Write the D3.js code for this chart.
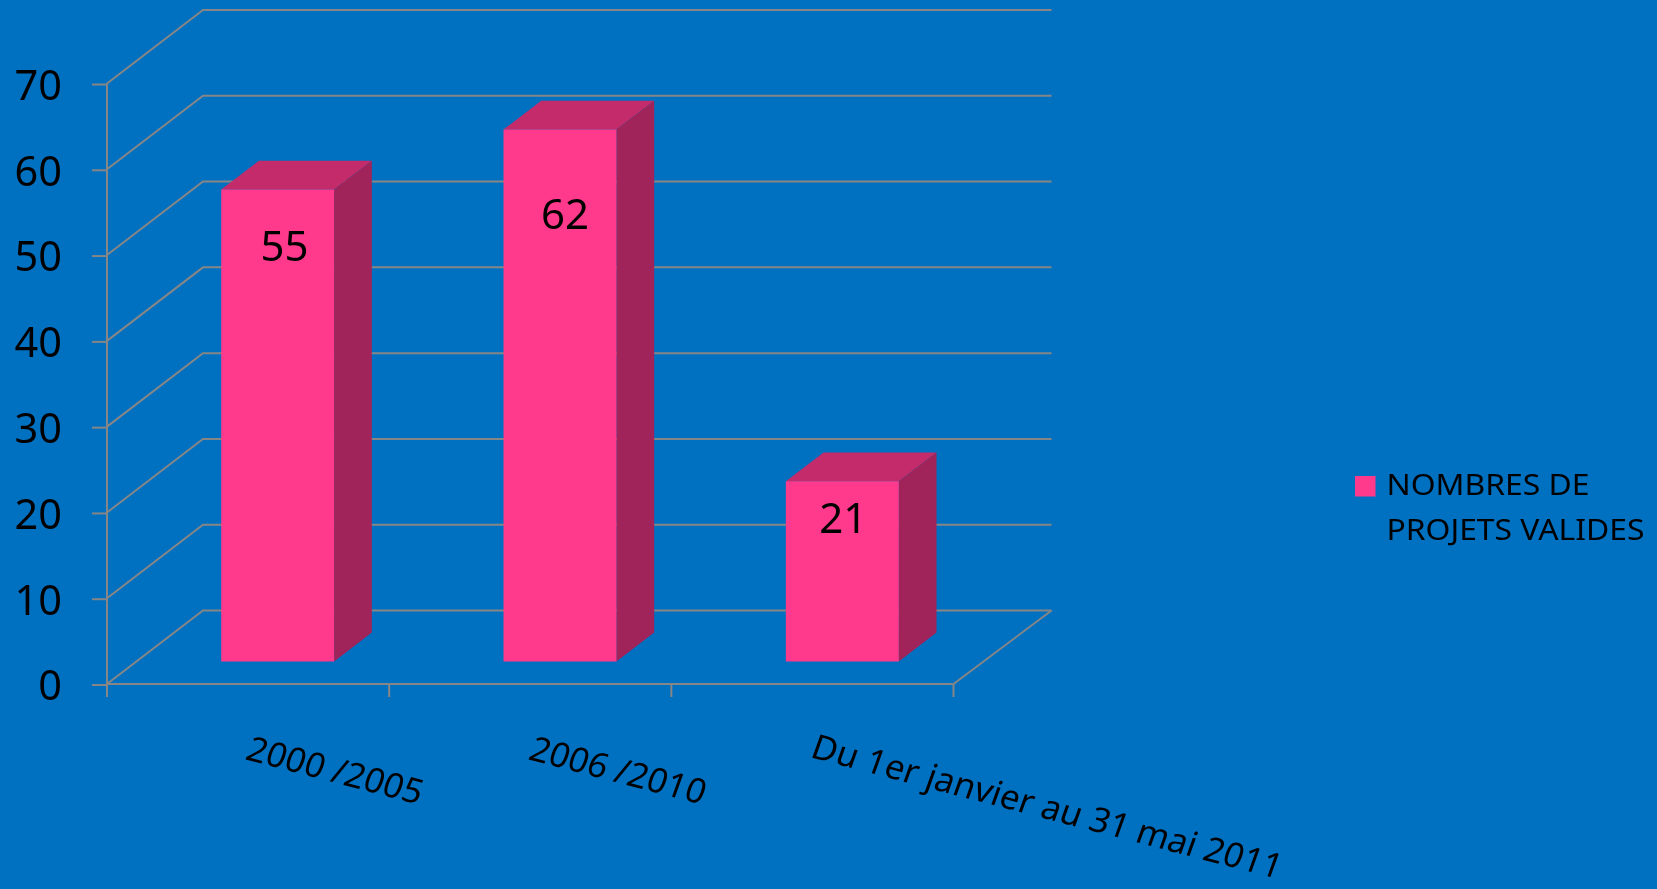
<!DOCTYPE html>
<html lang="fr">
<head>
<meta charset="utf-8">
<script src="https://cdnjs.cloudflare.com/ajax/libs/d3/7.8.5/d3.min.js"></script>
<style>
html,body{margin:0;padding:0;background:#0070C0;overflow:hidden}
svg{display:block;filter:blur(0.45px)}
text{font-family:"Noto Sans","Open Sans",sans-serif;fill:#000}
</style>
</head>
<body>
<svg id="chart" width="1657" height="889"></svg>
<script>
const categories = ["2000 /2005", "2006 /2010", "Du 1er janvier au 31 mai 2011"];
const values = [55, 62, 21];
const yTicks = [0, 10, 20, 30, 40, 50, 60, 70];
const seriesName = ["NOMBRES DE", "PROJETS VALIDES"];

const C = {bg:"#0070C0", front:"#FF398B", top:"#C42B6B", side:"#A0235A", grid:"#868686"};
const W = 1657, H = 889;
const svg = d3.select("#chart");
svg.append("rect").attr("width", W).attr("height", H).attr("fill", C.bg);

const y = d3.scaleLinear().domain([0, 70]).range([684, 83.5]);
const x = d3.scaleBand().domain(categories).range([107, 954]).paddingInner(0.6).paddingOuter(0.3);
const slots = d3.scalePoint().domain(d3.range(categories.length + 1)).range([107, 953.5]);

// oblique projection: depth 0 = front of floor, 1 = back wall
const project = (px, v, d) => [px + 96 * d, y(v) - 73.5 * d];
const line = d3.line();
const SW = 2;

const grid = svg.append("g").attr("fill", "none").attr("stroke", C.grid).attr("stroke-width", SW);
grid.selectAll("path.g").data(yTicks).join("path").attr("class", "g")
  .attr("d", v => line([project(107, v, 0), project(107, v, 1), project(955.5, v, 1)]));
grid.append("path").attr("d", line([project(953.5, 0, 0), project(955.5, 0, 1)]));
grid.append("path").attr("d", line([project(107, 0, 0), project(953.5, 0, 0)]));
grid.append("path").attr("d", line([project(107, 70, 0), project(107, 0, 0)]));

// value axis
const yAxis = d3.axisLeft(y).tickValues(yTicks).tickSize(15).tickPadding(30);
const gy = svg.append("g").attr("transform", "translate(107,0.5)").call(yAxis);
gy.select(".domain").remove();
gy.selectAll("line").attr("stroke", C.grid).attr("stroke-width", SW);
gy.selectAll("text").attr("font-size", 41.5).attr("dy", "0.37em").style("font-family", '"Noto Sans"').attr("fill", "#000");

// category ticks
svg.append("g").selectAll("line").data(slots.domain()).join("line")
  .attr("x1", i => slots(i)).attr("x2", i => slots(i))
  .attr("y1", y(0)).attr("y2", y(0) + 13)
  .attr("stroke", C.grid).attr("stroke-width", SW);

// bars
const D0 = 0.307, D1 = 0.70;
const poly = pts => line(pts) + "Z";
const bars = svg.append("g").selectAll("g").data(values).join("g");
const xl = (d, i) => x(categories[i]);
const xr = (d, i) => x(categories[i]) + x.bandwidth();
bars.append("path").attr("fill", C.top).attr("d", (d, i) => poly([
  project(xl(d, i), d, D0), project(xr(d, i), d, D0), project(xr(d, i), d, D1), project(xl(d, i), d, D1)]));
bars.append("path").attr("fill", C.side).attr("d", (d, i) => poly([
  project(xr(d, i), 0, D0), project(xr(d, i), d, D0), project(xr(d, i), d, D1), project(xr(d, i), 0, D1)]));
bars.append("path").attr("fill", C.front).attr("d", (d, i) => poly([
  project(xl(d, i), 0, D0), project(xr(d, i), 0, D0), project(xr(d, i), d, D0), project(xl(d, i), d, D0)]));

// data labels, hand-placed in the original
const labelNudge = [[7, 71], [5, 99], [1, 52]];
bars.append("text").attr("font-size", 42).attr("text-anchor", "middle")
  .attr("x", (d, i) => project(x(categories[i]) + x.bandwidth() / 2, d, D0)[0] + labelNudge[i][0])
  .attr("y", (d, i) => project(0, d, D0)[1] + labelNudge[i][1])
  .text(d => d);

// category labels
const labelAnchor = [[244, 759], [527, 759], [809, 757]];
svg.append("g").selectAll("text").data(categories).join("text")
  .attr("font-size", 34.6)
  .attr("transform", (d, i) => `translate(${labelAnchor[i]}) rotate(14.6) skewX(-5)`)
  .text(d => d);

// legend
svg.append("rect").attr("x", 1355).attr("y", 476).attr("width", 20.5).attr("height", 20.5).attr("fill", C.front);
svg.append("g").selectAll("text").data(seriesName).join("text")
  .attr("transform", (d, i) => `translate(1386.5,${495 + i * 45}) scale(1.08,1)`)
  .attr("font-size", 29.5).text(d => d);
</script>
</body>
</html>
